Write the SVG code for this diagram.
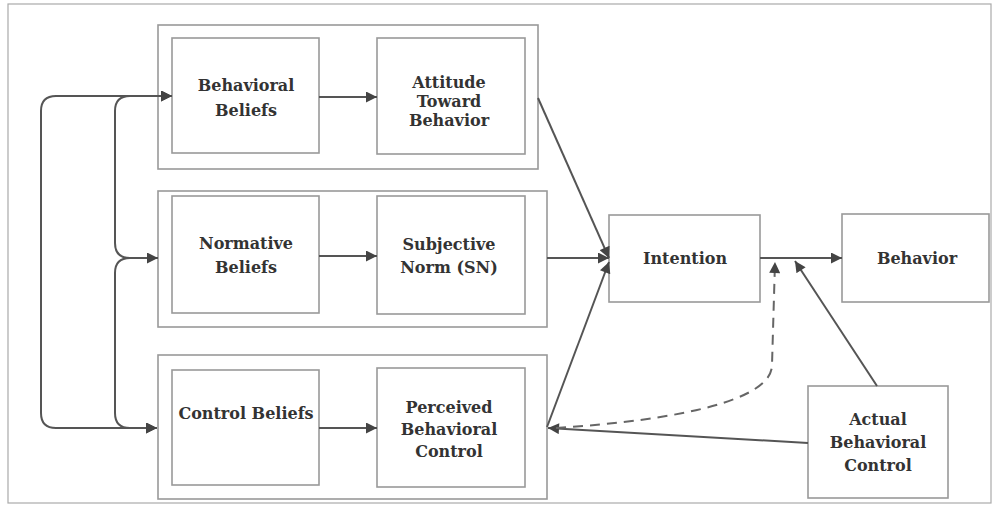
<svg xmlns="http://www.w3.org/2000/svg" width="995" height="507" viewBox="0 0 995 507">
<style>
.frame{fill:none;stroke:#aaa;stroke-width:1.2}
.grp{fill:none;stroke:#999;stroke-width:1.6}
.box{fill:#fff;stroke:#999;stroke-width:1.6}
.lbl{font-family:"DejaVu Serif",serif;font-weight:bold;font-size:16px;fill:#333;text-anchor:middle;dominant-baseline:central}
.con{fill:none;stroke:#555;stroke-width:2}
.dash{fill:none;stroke:#666;stroke-width:2;stroke-dasharray:10 7}
</style>
<defs>
<marker id="ah" viewBox="0 0 10 10" refX="10" refY="5" markerWidth="6" markerHeight="5.5" orient="auto-start-reverse" markerUnits="strokeWidth">
<path d="M0,0 L10,5 L0,10 Z" fill="#444"/>
</marker>
</defs>
<rect x="0" y="0" width="995" height="507" fill="#fff"/>
<rect class="frame" x="8" y="4" width="983" height="499"/>
<g id="group-attitude"><rect class="grp" x="158" y="25" width="380" height="144"/></g>
<g id="group-norm"><rect class="grp" x="158" y="191" width="389" height="136"/></g>
<g id="group-control"><rect class="grp" x="158" y="355" width="389" height="144"/></g>
<g id="behavioral-beliefs"><rect class="box" x="172" y="38" width="147" height="115"/>
<text class="lbl" x="246" y="85">Behavioral</text><text class="lbl" x="246" y="110">Beliefs</text></g>
<g id="attitude"><rect class="box" x="377" y="38" width="148" height="116"/>
<text class="lbl" x="449" y="82">Attitude</text><text class="lbl" x="449" y="101">Toward</text><text class="lbl" x="449" y="120">Behavior</text></g>
<g id="normative-beliefs"><rect class="box" x="172" y="196" width="147" height="117"/>
<text class="lbl" x="246" y="243">Normative</text><text class="lbl" x="246" y="267">Beliefs</text></g>
<g id="subjective-norm"><rect class="box" x="377" y="196" width="148" height="118"/>
<text class="lbl" x="449" y="244">Subjective</text><text class="lbl" x="449" y="267">Norm (SN)</text></g>
<g id="control-beliefs"><rect class="box" x="172" y="370" width="147" height="115"/>
<text class="lbl" x="246" y="413">Control Beliefs</text></g>
<g id="perceived-behavioral-control"><rect class="box" x="377" y="368" width="148" height="119"/>
<text class="lbl" x="449" y="407">Perceived</text><text class="lbl" x="449" y="429">Behavioral</text><text class="lbl" x="449" y="451">Control</text></g>
<g id="intention"><rect class="box" x="609" y="215" width="151" height="87"/>
<text class="lbl" x="685" y="258">Intention</text></g>
<g id="behavior"><rect class="box" x="842" y="214" width="147" height="88"/>
<text class="lbl" x="917" y="258">Behavior</text></g>
<g id="actual-behavioral-control"><rect class="box" x="808" y="386" width="140" height="112"/>
<text class="lbl" x="878" y="419">Actual</text><text class="lbl" x="878" y="442">Behavioral</text><text class="lbl" x="878" y="465">Control</text></g>
<g id="connectors">
<path class="con" d="M172,96 L56,96 Q41,96 41,111 L41,413 Q41,428 56,428 L157,428" marker-start="url(#ah)" marker-end="url(#ah)"/>
<path class="con" d="M172,96 L130,96 Q115,96 115,111 L115,243 Q115,258 130,258 L158,258" marker-start="url(#ah)" marker-end="url(#ah)"/>
<path class="con" d="M130,258 Q115,258 115,273 L115,413 Q115,428 130,428 L157,428" marker-end="url(#ah)"/>
<path class="con" d="M319,97 L377,97" marker-end="url(#ah)"/>
<path class="con" d="M319,256 L377,256" marker-end="url(#ah)"/>
<path class="con" d="M319,428 L377,428" marker-end="url(#ah)"/>
<path class="con" d="M538,98 L609,258" marker-end="url(#ah)"/>
<path class="con" d="M547,258 L609,258" marker-end="url(#ah)"/>
<path class="con" d="M547,427 L609,262" marker-end="url(#ah)"/>
<path class="con" d="M760,258 L842,258" marker-end="url(#ah)"/>
<path class="con" d="M877,386 L795,261" marker-end="url(#ah)"/>
<path class="con" d="M808,443 L548,428" marker-end="url(#ah)"/>
<path class="dash" d="M556,428 C680,420 772,400 772,365 L775,262" marker-end="url(#ah)"/>
</g>
</svg>
